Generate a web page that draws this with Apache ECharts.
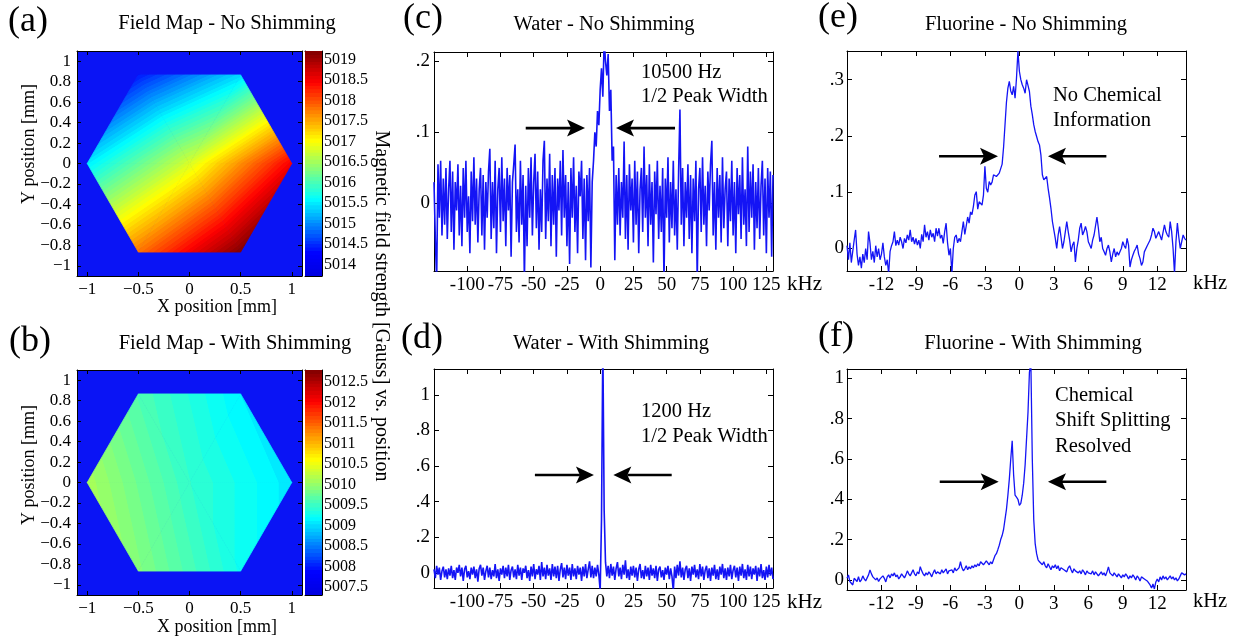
<!DOCTYPE html>
<html><head><meta charset="utf-8">
<script src="https://cdn.jsdelivr.net/npm/echarts@6/dist/echarts.min.js"></script>
<style>html,body{margin:0;padding:0;background:#fff}#c{width:1239px;height:641px}</style>
</head><body><div id="c"></div>
<script>
// ================= DATA =================
// Field maps: measurement points of the hexagonal sample (mm) and field values (Gauss)
const hexX = [0, -1, -0.5, 0.5, 1, 0.5, -0.5];
const hexY = [0, 0, 0.866, 0.866, 0, -0.866, -0.866];
const fieldNoShim = [5016.8, 5015.5, 5014.4, 5015.4, 5018.5, 5019.2, 5017.8];
const fieldShim   = [5009.45, 5010.1, 5009.6, 5009.1, 5009.05, 5009.25, 5009.9];
const hexTriangles = [[0,1,2],[0,2,3],[0,3,4],[0,4,5],[0,5,6],[0,6,1]];
const colorRangeNoShim = [5013.72, 5019.21];
const colorRangeShim = [5007.3, 5012.79];
const cbTicksNoShim = [5014, 5014.5, 5015, 5015.5, 5016, 5016.5, 5017, 5017.5, 5018, 5018.5, 5019];
const cbTicksShim = [5007.5, 5008, 5008.5, 5009, 5009.5, 5010, 5010.5, 5011, 5011.5, 5012, 5012.5];
const mapTicksX = [-1, -0.5, 0, 0.5, 1];
const mapTicksY = [-1, -0.8, -0.6, -0.4, -0.2, 0, 0.2, 0.4, 0.6, 0.8, 1];

// Water spectra: frequency grid start/step (kHz) and amplitudes
const waterFreqStart = -125, waterFreqStep = 1;
const waterNoShim = [
 0.03,-0.05,-0.11,0.055,-0.02,0.06,-0.045,0.035,-0.03,0.05,
 -0.05,0.02,0.06,-0.04,0.045,-0.065,0.03,-0.01,0.055,-0.045,
 0.025,-0.06,0.05,-0.02,0.06,-0.04,0.01,-0.07,0.045,-0.025,
 0.065,-0.03,0.035,-0.055,0.02,0.05,-0.045,0.04,-0.065,0.03,
 -0.02,0.045,0.077,-0.05,0.03,-0.035,0.06,-0.07,0.02,0.05,
 -0.04,0.065,-0.025,0.035,-0.06,0.05,-0.01,0.04,-0.075,0.03,
 0.055,0.083,-0.04,0.02,-0.055,0.06,-0.03,0.04,-0.11,0.025,
 -0.06,0.05,-0.02,0.065,-0.045,0.03,0.07,-0.035,0.045,-0.065,
 0.02,-0.04,0.06,0.088,-0.05,0.035,-0.025,0.07,-0.06,0.04,
 -0.03,0.05,-0.075,0.035,-0.01,0.06,-0.045,0.075,-0.02,0.04,
 -0.06,0.03,-0.085,0.05,-0.02,0.065,-0.04,0.025,-0.07,0.045,
 0.01,0.06,-0.05,0.035,-0.08,0.04,-0.025,0.05,-0.09,0.03,
 0.06,0.1,0.08,0.13,0.11,0.16,0.19,0.15,0.23,0.2,
 0.18,0.21,0.13,0.16,0.06,0.08,-0.08,0.04,-0.03,0.05,
 -0.045,0.03,-0.02,0.087,-0.05,0.04,-0.065,0.055,-0.01,0.035,
 -0.055,0.06,-0.03,0.045,-0.07,0.02,0.05,-0.04,0.08,-0.02,
 0.04,-0.06,0.055,-0.03,0.03,-0.083,0.045,-0.015,0.06,-0.05,
 0.025,-0.04,0.05,-0.11,0.035,-0.02,0.065,-0.055,0.03,-0.035,
 0.06,-0.045,0.02,-0.065,0.045,0.132,-0.03,0.05,-0.06,0.03,
 -0.02,0.055,-0.05,0.04,-0.07,0.035,-0.025,0.06,-0.11,0.02,
 0.05,-0.04,0.065,-0.03,0.025,-0.06,0.045,-0.01,0.055,0.088,
 -0.045,0.03,-0.065,0.05,-0.02,0.04,-0.055,0.065,-0.035,0.02,
 0.045,-0.06,0.035,-0.025,0.06,-0.045,0.03,-0.07,0.05,-0.015,
 0.04,-0.05,0.065,-0.03,0.02,-0.06,0.08,-0.04,0.045,-0.02,
 0.055,-0.065,0.03,-0.035,0.05,-0.05,0.025,0.06,-0.045,0.035,
 -0.07,0.05,-0.02,0.045,-0.075,0.04
];
const waterShim = [
 0.02,-0.03,0.04,-0.01,0.03,-0.04,0.01,0.035,-0.025,0.02,
 -0.035,0.025,-0.015,0.04,-0.03,0.015,-0.04,0.03,0.0,0.045,
 -0.02,0.03,-0.045,0.02,0.04,-0.025,0.01,-0.035,0.03,-0.01,
 0.035,-0.03,0.02,-0.05,0.025,0.045,-0.015,0.03,-0.04,0.01,
 0.04,-0.025,0.03,-0.035,0.015,-0.02,0.05,-0.03,0.02,-0.045,
 0.025,-0.01,0.04,-0.03,0.03,-0.02,0.045,-0.04,0.015,0.035,
 -0.025,0.02,-0.035,0.045,-0.015,0.03,-0.04,0.025,0.0,0.04,
 -0.03,0.015,-0.045,0.035,-0.02,0.05,-0.035,0.02,-0.01,0.04,
 -0.04,0.06,-0.02,0.03,-0.035,0.045,-0.015,0.025,-0.04,0.05,
 -0.02,0.035,-0.03,0.04,-0.045,0.02,0.055,-0.025,0.03,-0.035,
 0.045,-0.015,0.03,-0.04,0.05,-0.02,0.025,-0.035,0.04,-0.01,
 0.03,-0.045,0.035,-0.02,0.05,-0.03,0.02,0.065,-0.025,0.04,
 -0.03,0.03,-0.02,0.045,-0.01,-0.1,0.3,1.3,0.35,0.06,
 -0.02,0.04,-0.03,0.05,-0.015,0.035,-0.04,0.025,0.06,-0.02,
 0.03,-0.035,0.045,-0.01,0.07,-0.03,0.02,-0.04,0.035,-0.015,
 0.04,-0.025,0.03,-0.045,0.02,0.05,-0.03,0.015,-0.035,0.04,
 -0.02,0.03,-0.04,0.045,-0.015,0.025,-0.03,0.04,-0.045,0.02,
 0.035,-0.025,0.015,-0.04,0.03,-0.01,0.04,-0.035,0.025,-0.02,
 -0.1,0.035,-0.03,0.045,-0.015,0.065,-0.025,0.03,-0.04,0.02,
 0.04,-0.03,0.025,-0.045,0.035,-0.01,0.045,-0.025,0.02,-0.035,
 0.05,-0.02,0.035,-0.04,0.015,0.04,-0.03,0.025,-0.045,0.03,
 -0.015,0.045,-0.035,0.02,-0.04,0.035,-0.01,0.05,-0.03,0.025,
 -0.04,0.03,-0.02,0.045,-0.035,0.015,0.04,-0.025,0.03,-0.045,
 0.035,-0.015,0.05,-0.03,0.02,-0.04,0.045,-0.02,0.035,-0.035,
 0.025,-0.01,0.04,-0.045,0.03,-0.02,0.05,-0.03,0.015,-0.04,
 0.035,-0.025,0.045,-0.015,0.03,-0.035
];

// Fluorine spectra: frequency grid start/step (kHz) and amplitudes
const fluorFreqStart = -15, fluorFreqStep = 0.125;
const fluorNoShim = [
 0.005,-0.02,0.01,-0.025,-0.005,0.015,0.033,-0.01,
 -0.03,-0.015,-0.035,-0.01,-0.025,0.0,-0.02,0.03,
 0.01,-0.02,-0.005,-0.025,0.005,-0.015,0.0,-0.02,
 -0.01,0.01,-0.015,-0.03,-0.02,-0.045,-0.005,0.005,
 0.012,0.03,0.005,0.015,0.006,0.02,0.012,0.0,
 0.018,0.01,0.024,0.015,0.033,0.012,0.02,0.008,
 0.018,0.006,0.015,0.0,0.025,0.012,0.042,0.02,
 0.03,0.015,0.033,0.02,0.027,0.012,0.036,0.022,
 0.036,0.018,0.024,0.009,0.03,0.045,0.01,-0.012,
 0.0,-0.045,0.0,0.02,0.024,0.01,0.018,0.012,
 0.03,0.048,0.025,0.04,0.056,0.045,0.065,0.06,
 0.075,0.095,0.101,0.07,0.083,0.08,0.077,0.095,
 0.146,0.107,0.1,0.119,0.113,0.118,0.131,0.128,
 0.128,0.131,0.134,0.137,0.15,0.18,0.22,0.26,
 0.285,0.297,0.28,0.273,0.288,0.267,0.303,0.351,
 0.315,0.3,0.291,0.285,0.276,0.3,0.29,0.279,
 0.253,0.238,0.22,0.208,0.199,0.19,0.184,0.166,
 0.131,0.122,0.125,0.128,0.107,0.09,0.071,0.048,
 0.033,0.018,0.0,0.024,0.039,0.02,0.0,0.012,
 0.03,0.048,0.03,0.015,-0.006,0.006,0.012,-0.024,
 0.0,0.015,0.036,0.045,0.024,0.03,0.039,0.03,
 0.012,0.006,0.0,0.015,0.024,0.04,0.056,0.036,
 0.012,0.02,0.0,-0.006,-0.012,0.0,0.006,-0.006,
 -0.024,-0.01,0.0,-0.015,-0.006,-0.012,-0.006,0.0,
 0.012,0.005,0.0,0.018,0.006,-0.033,-0.02,-0.012,
 -0.005,0.0,0.006,-0.01,-0.018,-0.03,-0.024,-0.006,
 -0.006,0.005,0.006,0.015,0.024,0.036,0.03,0.018,
 0.024,0.03,0.033,0.015,0.012,0.042,0.03,0.024,
 0.02,0.048,0.03,0.0,-0.045,0.012,0.045,0.02,
 0.0,0.012,0.024,0.018,0.015
];
const fluorShim = [
 0.008,0.025,-0.008,0.0,-0.025,0.008,0.016,-0.008,
 0.016,-0.01,0.0,0.02,0.005,-0.005,0.01,0.025,
 0.049,0.03,0.015,0.02,0.0,0.01,-0.008,0.005,
 0.0,0.02,0.008,-0.01,0.015,0.025,0.01,0.03,
 0.02,0.035,0.015,0.025,0.005,0.015,0.03,0.02,
 0.01,0.025,0.045,0.03,0.02,0.035,0.05,0.03,
 0.02,0.04,0.03,0.066,0.045,0.03,0.02,0.035,
 0.025,0.04,0.03,0.015,0.035,0.05,0.03,0.04,
 0.045,0.03,0.05,0.035,0.04,0.055,0.03,0.045,
 0.04,0.05,0.035,0.06,0.045,0.05,0.06,0.09,
 0.06,0.045,0.055,0.07,0.05,0.065,0.055,0.07,
 0.06,0.075,0.065,0.08,0.07,0.09,0.085,0.075,
 0.08,0.095,0.085,0.075,0.09,0.08,0.1,0.12,
 0.13,0.15,0.172,0.2,0.22,0.25,0.3,0.35,
 0.42,0.5,0.6,0.69,0.52,0.42,0.41,0.4,
 0.37,0.38,0.42,0.48,0.57,0.7,0.83,1.03,
 1.08,0.6,0.3,0.18,0.13,0.1,0.09,0.085,
 0.075,0.09,0.07,0.06,0.08,0.065,0.05,0.07,
 0.06,0.075,0.055,0.07,0.045,0.06,0.065,0.05,
 0.055,0.04,0.06,0.07,0.05,0.035,0.055,0.045,
 0.05,0.035,0.045,0.03,0.05,0.04,0.025,0.045,
 0.035,0.04,0.03,0.045,0.025,0.04,0.035,0.02,
 0.03,0.04,0.025,0.035,0.02,0.04,0.065,0.035,
 0.03,0.02,0.035,0.025,0.015,0.03,0.02,0.01,
 0.025,0.015,0.03,0.02,0.005,0.02,0.01,0.025,
 0.015,0.0,0.02,0.01,-0.005,0.015,0.02,0.005,
 0.01,-0.005,-0.015,-0.025,-0.04,-0.02,-0.045,-0.01,
 0.005,-0.01,0.015,0.0,0.02,0.005,0.015,0.0,
 0.01,0.02,0.005,0.015,0.0,0.01,-0.005,0.005,
 0.02,0.035,0.04,0.025,0.03
];
const waterTicksX = [-100, -75, -50, -25, 0, 25, 50, 75, 100, 125];
const fluorTicksX = [-12, -9, -6, -3, 0, 3, 6, 9, 12];
const waterNoShimTicksY = [0, 0.1, 0.2];
const unitTicksY = [0, 0.2, 0.4, 0.6, 0.8, 1];
const fluorNoShimTicksY = [0, 0.1, 0.2, 0.3];

// Half-width arrows [tailX, tailY, tipX, tipY] in data units
const arrowsC = [[-56.0, 0.106, -11.4, 0.106], [56.3, 0.106, 11.9, 0.106]];
const arrowsD = [[-49.1, 0.55, -4.7, 0.55], [53.8, 0.55, 9.9, 0.55]];
const arrowsE = [[-6.99, 0.164, -1.86, 0.164], [7.57, 0.164, 2.49, 0.164]];
const arrowsF = [[-6.93, 0.487, -1.80, 0.487], [7.57, 0.487, 2.49, 0.487]];

// ================= STYLE / HELPERS =================
const FONT = '"Liberation Serif","Times New Roman",serif';
const cmapStops = [[0,[0,0,225]],[0.1,[0,0,255]],[0.34,[0,255,255]],[0.6,[255,255,0]],[0.86,[255,0,0]],[1,[128,0,0]]];
function cmap(t){
  t = Math.max(0, Math.min(1, t));
  const q = Math.min(63, Math.floor(t * 64));
  t = (q + 0.5) / 64;
  for (let i = 1; i < cmapStops.length; i++) {
    const a = cmapStops[i-1], b = cmapStops[i];
    if (t <= b[0]) {
      const f = (t - a[0]) / (b[0] - a[0]);
      const c = a[1].map((v, k) => Math.round(v + (b[1][k] - v) * f));
      return 'rgb(' + c.join(',') + ')';
    }
  }
  return 'rgb(128,0,0)';
}
function gradientFor(A, B, vmin, vmax, range, n){
  const stops = [];
  for (let i = 0; i <= n; i++) {
    const v = vmin + (vmax - vmin) * i / n;
    stops.push({offset: i / n, color: cmap((v - range[0]) / (range[1] - range[0]))});
  }
  return {type:'linear', x:A[0], y:A[1], x2:B[0], y2:B[1], global:true, colorStops:stops};
}
function triFill(P, V, range){
  const [x0,y0] = P[0], [x1,y1] = P[1], [x2,y2] = P[2];
  const det = (x1-x0)*(y2-y0) - (x2-x0)*(y1-y0);
  const dv1 = V[1]-V[0], dv2 = V[2]-V[0];
  const gx = (dv1*(y2-y0) - dv2*(y1-y0)) / det;
  const gy = ((x1-x0)*dv2 - (x2-x0)*dv1) / det;
  const g2 = gx*gx + gy*gy;
  let imin = 0, imax = 0;
  for (let k = 1; k < 3; k++) { if (V[k] < V[imin]) imin = k; if (V[k] > V[imax]) imax = k; }
  const vmin = V[imin], vmax = V[imax];
  if (!(g2 > 1e-14) || vmax - vmin < 1e-9) return cmap((vmin - range[0]) / (range[1] - range[0]));
  const A = P[imin], d = (vmax - vmin) / g2;
  return gradientFor(A, [A[0] + gx*d, A[1] + gy*d], vmin, vmax, range, 160);
}

const option = {animation:false, backgroundColor:'#fff', grid:[], xAxis:[], yAxis:[], series:[], graphic:[]};
function addGrid(g){ option.grid.push(Object.assign({outerBoundsMode:'none', containLabel:false, borderWidth:0}, g)); return option.grid.length - 1; }
function axisBase(extra){ return Object.assign({type:'value', splitLine:{show:false}, axisLine:{show:true, onZero:false, lineStyle:{color:'#000', width:1}}}, extra); }
function addFrame(gi, xr, yr, xt, yt, xf, yf, fs, tl, xm, ym){
  const lab = (vals, f, m) => ({show:true, customValues:vals, formatter:f, color:'#000', fontFamily:FONT, fontSize:fs, margin:m, hideOverlap:false});
  const tick = vals => ({show:true, inside:true, length:tl, customValues:vals, lineStyle:{color:'#000', width:1}});
  const xi = option.xAxis.length, yi = option.yAxis.length;
  option.xAxis.push(axisBase({gridIndex:gi, min:xr[0], max:xr[1], position:'bottom', axisTick:tick(xt), axisLabel:lab(xt, xf, xm)}));
  option.xAxis.push(axisBase({gridIndex:gi, min:xr[0], max:xr[1], position:'top', axisTick:tick(xt), axisLabel:{show:false}}));
  option.yAxis.push(axisBase({gridIndex:gi, min:yr[0], max:yr[1], position:'left', axisTick:tick(yt), axisLabel:lab(yt, yf, ym)}));
  option.yAxis.push(axisBase({gridIndex:gi, min:yr[0], max:yr[1], position:'right', axisTick:tick(yt), axisLabel:{show:false}}));
  return [xi, yi];
}
function addColorbar(gi, range, ticks){
  const xi = option.xAxis.length, yi = option.yAxis.length;
  option.xAxis.push(axisBase({gridIndex:gi, min:0, max:1, position:'bottom', axisTick:{show:false}, axisLabel:{show:false}}));
  option.xAxis.push(axisBase({gridIndex:gi, min:0, max:1, position:'top', axisTick:{show:false}, axisLabel:{show:false}}));
  option.yAxis.push(axisBase({gridIndex:gi, min:range[0], max:range[1], position:'left', axisTick:{show:false}, axisLabel:{show:false}}));
  option.yAxis.push(axisBase({gridIndex:gi, min:range[0], max:range[1], position:'right',
    axisTick:{show:true, inside:true, length:3, customValues:ticks, lineStyle:{color:'#000'}},
    axisLabel:{show:true, customValues:ticks, formatter:v => String(v), color:'#000', fontFamily:FONT, fontSize:16, margin:2, hideOverlap:false}}));
  option.series.push({type:'custom', xAxisIndex:xi, yAxisIndex:yi, silent:true, z:1,
    data:[[0, range[0], 1, range[1]]], encode:{x:[0,2], y:[1,3]},
    renderItem(params, api){
      const p0 = api.coord([api.value(0), api.value(1)]), p1 = api.coord([api.value(2), api.value(3)]);
      return {type:'rect', shape:{x:p0[0], y:p1[1], width:p1[0]-p0[0], height:p0[1]-p1[1]},
        style:{fill:gradientFor([p0[0], p0[1]], [p0[0], p1[1]], range[0], range[1], range, 320)}};
    }});
}
function addMap(xi, yi, values, range){
  const data = hexTriangles.map(t => [hexX[t[0]], hexY[t[0]], hexX[t[1]], hexY[t[1]], hexX[t[2]], hexY[t[2]], values[t[0]], values[t[1]], values[t[2]]]);
  option.series.push({type:'custom', xAxisIndex:xi, yAxisIndex:yi, silent:true, z:1, data, encode:{x:[0,2,4], y:[1,3,5]},
    renderItem(params, api){
      const P = [0,1,2].map(k => api.coord([api.value(2*k), api.value(2*k+1)]));
      const V = [6,7,8].map(k => api.value(k));
      const fill = triFill(P, V, range);
      return {type:'polygon', shape:{points:P}, style:{fill, stroke:fill, lineWidth:0.8}};
    }});
}
function addSpectrum(xi, yi, start, step, values, width){
  option.series.push({type:'line', xAxisIndex:xi, yAxisIndex:yi, silent:true, showSymbol:false, clip:true, z:2,
    data: values.map((v, i) => [start + i*step, v]),
    lineStyle:{color:'rgb(20,20,245)', width:width}});
}
function addArrows(xi, yi, arrows){
  option.series.push({type:'custom', xAxisIndex:xi, yAxisIndex:yi, silent:true, z:5, data:arrows, encode:{x:[0,2], y:[1,3]},
    renderItem(params, api){
      const a = api.coord([api.value(0), api.value(1)]), b = api.coord([api.value(2), api.value(3)]);
      const dx = b[0]-a[0], dy = b[1]-a[1], L = Math.hypot(dx, dy), ux = dx/L, uy = dy/L, nx = -uy, ny = ux;
      const hl = 18, hw = 8.5, notch = 4;
      const bx = b[0]-ux*hl, by = b[1]-uy*hl;
      const nxp = b[0]-ux*(hl-notch), nyp = b[1]-uy*(hl-notch);
      return {type:'group', children:[
        {type:'line', shape:{x1:a[0], y1:a[1], x2:nxp, y2:nyp}, style:{stroke:'#000', lineWidth:2.6}},
        {type:'polygon', shape:{points:[[b[0],b[1]],[bx+nx*hw, by+ny*hw],[nxp,nyp],[bx-nx*hw, by-ny*hw]]}, style:{fill:'#000'}}
      ]};
    }});
}
const mapFmt = v => v < 0 ? '\u2212' + String(-v) : String(v);
const fracFmt = v => v === 0 ? '0' : String(v).replace(/^0\./, '.');
const plainFmt = v => String(v);
function txt(text, x, y, size, align, rotation){
  option.graphic.push({type:'text', x, y, rotation: rotation || 0, silent:true, z:100,
    style:{text, font: size + 'px ' + FONT, fill:'#000', align: align || 'center', verticalAlign:'middle'}});
}

// ================= BUILD =================
const gA = addGrid({left:77, top:51, width:225, height:225, show:true, backgroundColor:'#0a14f5'});
const gCbA = addGrid({left:305, top:51, width:17, height:225});
const gB = addGrid({left:77, top:370, width:225, height:225, show:true, backgroundColor:'#0a14f5'});
const gCbB = addGrid({left:305, top:370, width:17, height:225});
const gC = addGrid({left:434, top:52, width:339, height:219});
const gD = addGrid({left:434, top:369, width:339, height:219});
const gE = addGrid({left:847, top:51, width:339, height:220});
const gF = addGrid({left:847, top:369, width:339, height:221});

let ax;
ax = addFrame(gA, [-1.1, 1.1], [-1.1, 1.1], mapTicksX, mapTicksY, mapFmt, mapFmt, 17, 4, 5, 6);
addMap(ax[0], ax[1], fieldNoShim, colorRangeNoShim);
addColorbar(gCbA, colorRangeNoShim, cbTicksNoShim);
ax = addFrame(gB, [-1.1, 1.1], [-1.1, 1.1], mapTicksX, mapTicksY, mapFmt, mapFmt, 17, 4, 5, 6);
addMap(ax[0], ax[1], fieldShim, colorRangeShim);
addColorbar(gCbB, colorRangeShim, cbTicksShim);

ax = addFrame(gC, [-125, 130], [-0.095, 0.213], waterTicksX, waterNoShimTicksY, plainFmt, fracFmt, 19, 5, 5, 4);
addSpectrum(ax[0], ax[1], waterFreqStart, waterFreqStep, waterNoShim, 1.6);
addArrows(ax[0], ax[1], arrowsC);
ax = addFrame(gD, [-125, 130], [-0.085, 1.145], waterTicksX, unitTicksY, plainFmt, fracFmt, 19, 5, 5, 4);
addSpectrum(ax[0], ax[1], waterFreqStart, waterFreqStep, waterShim, 1.6);
addArrows(ax[0], ax[1], arrowsD);
ax = addFrame(gE, [-15, 14.5], [-0.04, 0.351], fluorTicksX, fluorNoShimTicksY, plainFmt, fracFmt, 19, 5, 5, 3);
addSpectrum(ax[0], ax[1], fluorFreqStart, fluorFreqStep, fluorNoShim, 1.3);
addArrows(ax[0], ax[1], arrowsE);
ax = addFrame(gF, [-15, 14.5], [-0.05, 1.046], fluorTicksX, unitTicksY, plainFmt, fracFmt, 19, 5, 5, 3);
addSpectrum(ax[0], ax[1], fluorFreqStart, fluorFreqStep, fluorShim, 1.3);
addArrows(ax[0], ax[1], arrowsF);

// Text
txt('(a)', 28, 22, 36); txt('(b)', 30, 342, 36);
txt('(c)', 423, 19, 36); txt('(d)', 422, 339, 36);
txt('(e)', 838, 18, 36); txt('(f)', 836, 337, 36);
txt('Field Map - No Shimming', 227, 24, 20.5);
txt('Field Map - With Shimming', 235, 344, 20.5);
txt('Water - No Shimming', 604, 25, 20.5);
txt('Water - With Shimming', 611, 344, 20.5);
txt('Fluorine - No Shimming', 1026, 25, 20.5);
txt('Fluorine - With Shimming', 1033, 344, 20.5);
txt('X position [mm]', 217, 307, 18);
txt('X position [mm]', 217, 627, 18);
txt('Y position [mm]', 29, 144, 18, 'center', Math.PI/2);
txt('Y position [mm]', 29, 465, 18, 'center', Math.PI/2);
txt('Magnetic field strength [Gauss] vs. position', 381, 306, 20, 'center', -Math.PI/2);
txt('kHz', 787, 284, 21, 'left'); txt('kHz', 787, 602, 21, 'left');
txt('kHz', 1193, 284, 20.5, 'left'); txt('kHz', 1193, 602, 20.5, 'left');
txt('10500 Hz', 641, 73, 20.5, 'left'); txt('1/2 Peak Width', 641, 97, 20.5, 'left');
txt('1200 Hz', 641, 412, 20.5, 'left'); txt('1/2 Peak Width', 641, 437, 20.5, 'left');
txt('No Chemical', 1053, 96, 20.5, 'left'); txt('Information', 1053, 121, 20.5, 'left');
txt('Chemical', 1055, 396, 20.5, 'left'); txt('Shift Splitting', 1055, 421, 20.5, 'left'); txt('Resolved', 1055, 447, 20.5, 'left');

const chart = echarts.init(document.getElementById('c'), null, {renderer:'canvas'});
chart.setOption(option);
</script>
</body></html>
